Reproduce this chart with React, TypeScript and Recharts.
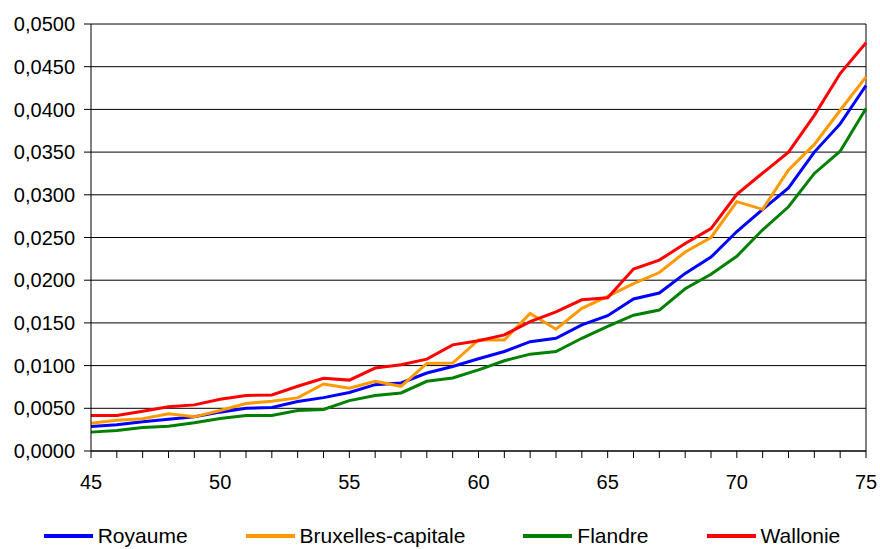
import React from "react";
import {
  LineChart,
  Line,
  XAxis,
  YAxis,
  CartesianGrid,
  Legend,
  ReferenceLine,
} from "recharts";

const ages = [
  45, 46, 47, 48, 49, 50, 51, 52, 53, 54, 55, 56, 57, 58, 59, 60, 61, 62, 63,
  64, 65, 66, 67, 68, 69, 70, 71, 72, 73, 74, 75,
];

const royaume = [
  0.00287, 0.00307, 0.00342, 0.00373, 0.004, 0.00455, 0.00501, 0.00509,
  0.00579, 0.00625, 0.00685, 0.00777, 0.00796, 0.00913, 0.0099, 0.0108,
  0.01165, 0.0128, 0.0132, 0.01476, 0.01585, 0.0178, 0.0185, 0.0208, 0.0227,
  0.0257, 0.0283, 0.0308, 0.035, 0.0383, 0.0428,
];

const bruxelles = [
  0.00326, 0.00361, 0.00377, 0.00435, 0.004, 0.00474, 0.00556, 0.00583,
  0.00622, 0.00785, 0.00735, 0.00816, 0.00758, 0.01026, 0.0103, 0.013, 0.013,
  0.0161, 0.01426, 0.0167, 0.0181, 0.0196, 0.0209, 0.0233, 0.025, 0.0292,
  0.0283, 0.0329, 0.0359, 0.0399, 0.0438,
];

const flandre = [
  0.00221, 0.00241, 0.00276, 0.00291, 0.0033, 0.00381, 0.00416, 0.00416,
  0.00474, 0.00486, 0.0059, 0.0065, 0.0068, 0.00816, 0.00855, 0.0095,
  0.01057, 0.01134, 0.01165, 0.0132, 0.0146, 0.0159, 0.0165, 0.019, 0.0207,
  0.0228, 0.0259, 0.0286, 0.0325, 0.0351, 0.0401,
];

const wallonie = [
  0.00416, 0.00416, 0.00466, 0.00517, 0.0054, 0.00606, 0.00649, 0.00657,
  0.00758, 0.00851, 0.0083, 0.00971, 0.0101, 0.01076, 0.01243, 0.0129, 0.0136,
  0.01515, 0.0163, 0.0177, 0.01795, 0.0213, 0.02235, 0.0243, 0.02605, 0.03006,
  0.03255, 0.035, 0.0393, 0.0442, 0.0478,
];

const yTicks = [
  0, 0.005, 0.01, 0.015, 0.02, 0.025, 0.03, 0.035, 0.04, 0.045, 0.05,
];

const xLabels = [45, 50, 55, 60, 65, 70, 75];

const series = [
  { key: "royaume", name: "Royaume", color: "#0000ff" },
  { key: "bruxelles", name: "Bruxelles-capitale", color: "#ff9900" },
  { key: "flandre", name: "Flandre", color: "#008000" },
  { key: "wallonie", name: "Wallonie", color: "#ff0000" },
];

const data = ages.map((age, i) => ({
  age,
  royaume: royaume[i],
  bruxelles: bruxelles[i],
  flandre: flandre[i],
  wallonie: wallonie[i],
}));

const FONT = "'Liberation Sans', Arial, Helvetica, sans-serif";

function LegendRow() {
  return (
    <div
      style={{
        display: "flex",
        justifyContent: "center",
        alignItems: "center",
        paddingLeft: 18,
        position: "relative",
        top: 2,
        fontFamily: FONT,
        fontSize: 21,
        lineHeight: "24px",
        color: "#000",
        height: 30,
      }}
    >
      {series.map((s, i) => (
        <div
          key={s.key}
          style={{
            display: "flex",
            alignItems: "center",
            marginRight: i < series.length - 1 ? 58 : 0,
          }}
        >
          <svg width={49} height={6} style={{ marginRight: 5 }}>
            <line x1={0} y1={3} x2={49} y2={3} stroke={s.color} strokeWidth={4} />
          </svg>
          <span>{s.name}</span>
        </div>
      ))}
    </div>
  );
}

export default function App() {
  return (
    <div style={{ position: "absolute", left: 0, top: 0, background: "#fff" }}>
      <LineChart
        width={880}
        height={549}
        data={data}
        margin={{ top: 24, right: 14, left: 0, bottom: 0 }}
      >
        <CartesianGrid vertical={false} stroke="#000" strokeWidth={1} />
        <XAxis
          dataKey="age"
          type="number"
          domain={[45, 75]}
          ticks={ages}
          interval={0}
          tickFormatter={(v) => (xLabels.includes(v) ? String(v) : "")}
          tickSize={7}
          tickMargin={17}
          height={68}
          stroke="#000"
          tick={{ fill: "#000", fontSize: 20, fontFamily: FONT }}
        />
        <YAxis
          domain={[0, 0.05]}
          ticks={yTicks}
          interval={0}
          tickFormatter={(v) => v.toFixed(4).replace(".", ",")}
          tickSize={7}
          tickMargin={9}
          width={91}
          stroke="#000"
          tick={{ fill: "#000", fontSize: 20, fontFamily: FONT }}
        />
        <ReferenceLine x={75} stroke="#000" />
        <Legend
          verticalAlign="bottom"
          height={30}
          content={() => <LegendRow />}
        />
        {series.map((s) => (
          <Line
            key={s.key}
            type="linear"
            dataKey={s.key}
            name={s.name}
            stroke={s.color}
            strokeWidth={3}
            dot={false}
            activeDot={false}
            isAnimationActive={false}
          />
        ))}
      </LineChart>
    </div>
  );
}
